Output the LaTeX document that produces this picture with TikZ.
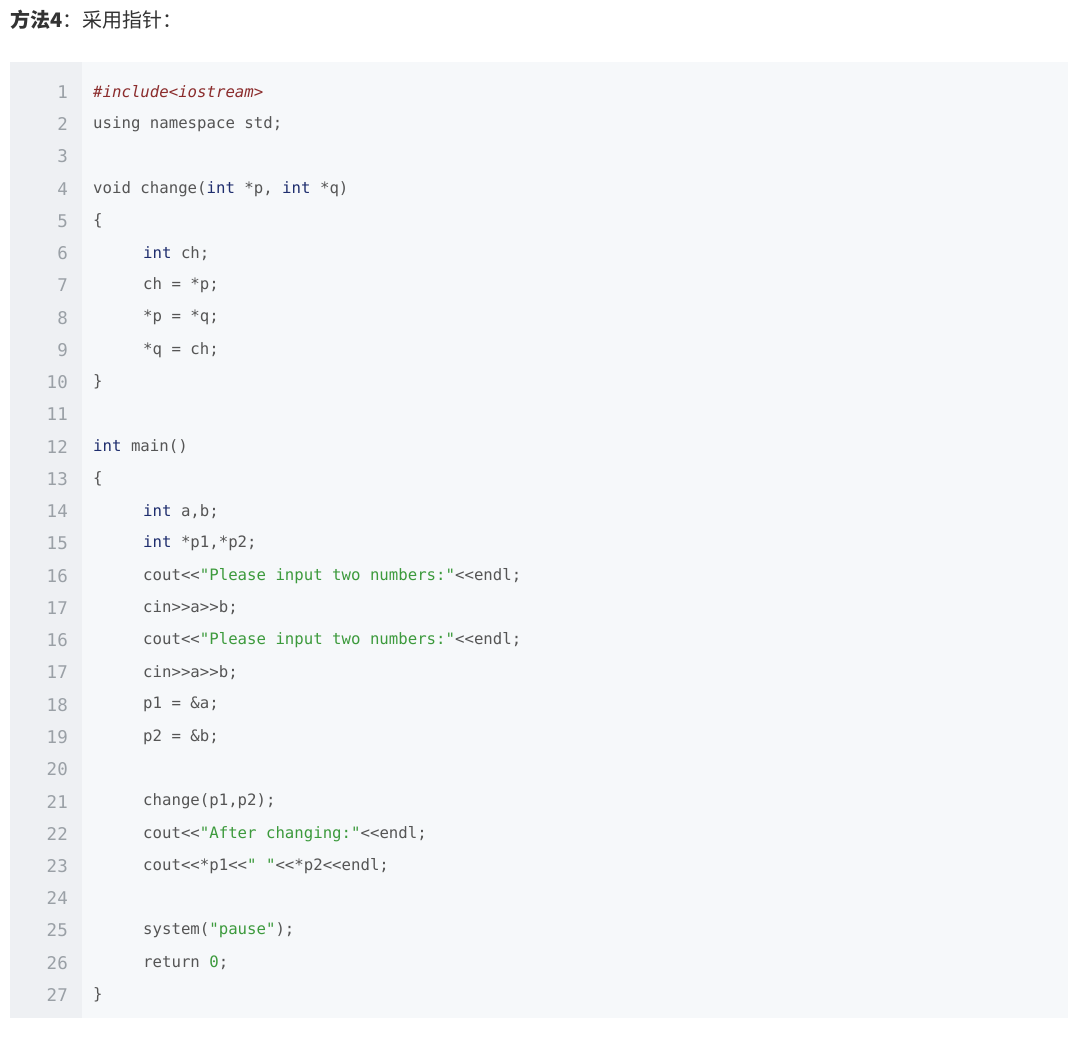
\documentclass[tikz,border=0pt]{standalone}
\usepackage{fontspec}
\setmonofont{DejaVu Sans Mono}
\newfontfamily\cjk{Noto Sans CJK SC}
\definecolor{gutterbg}{HTML}{EEF0F3}
\definecolor{codebg}{HTML}{F6F8FA}
\definecolor{numgrey}{HTML}{9AA0A6}
\definecolor{plain}{HTML}{555555}
\definecolor{kwblue}{HTML}{1F2E6E}
\definecolor{strgreen}{HTML}{3C9A3C}
\definecolor{preproc}{HTML}{8B2C2C}
\newcommand{\kw}[1]{\textcolor{kwblue}{#1}}
\newcommand{\strg}[1]{\textcolor{strgreen}{#1}}
\begin{document}
\begin{tikzpicture}[x=1pt,y=-1pt,
  lineno/.style={anchor=east,font=\ttfamily\fontsize{17.5}{17.5}\selectfont,text=numgrey,inner sep=0},
  codeline/.style={anchor=west,font=\ttfamily\fontsize{15.7}{15.7}\selectfont,text=plain,inner sep=0}]
  \useasboundingbox (0,0) rectangle (1080,1044);
  \fill[white] (0,0) rectangle (1080,1044);
  \node[anchor=west,inner sep=0,font=\cjk\fontsize{20}{20}\selectfont,text=black!80] (title) at (10,20)
    {\textbf{方法4}：采用指针：};
  \fill[codebg] (10,62) rectangle (1068,1018);
  \fill[gutterbg] (10,62) rectangle (82,1018);
  % line numbers
  \foreach \n [count=\i] in {1,...,15,16,17,16,17,18,19,20,21,22,23,24,25,26,27}
    \node[lineno] (num\i) at (68,{92+32.25*(\i-1)}) {\n};
  % code
  \def\L#1#2#3{\node[codeline] (line#1) at (#2,{92+32.25*(#1-1)}) {#3};}
  \L{1}{93}{\textcolor{preproc}{\itshape\#include}\textcolor{preproc}{<}\textcolor{preproc}{\itshape iostream}\textcolor{preproc}{>}}
  \L{2}{93}{using namespace std;}
  \L{4}{93}{void change(\kw{int} *p, \kw{int} *q)}
  \L{5}{93}{\{}
  \L{6}{143}{\kw{int} ch;}
  \L{7}{143}{ch = *p;}
  \L{8}{143}{*p = *q;}
  \L{9}{143}{*q = ch;}
  \L{10}{93}{\}}
  \L{12}{93}{\kw{int} main()}
  \L{13}{93}{\{}
  \L{14}{143}{\kw{int} a,b;}
  \L{15}{143}{\kw{int} *p1,*p2;}
  \L{16}{143}{cout<<\strg{"Please input two numbers:"}<<endl;}
  \L{17}{143}{cin>>a>>b;}
  \L{18}{143}{cout<<\strg{"Please input two numbers:"}<<endl;}
  \L{19}{143}{cin>>a>>b;}
  \L{20}{143}{p1 = \&a;}
  \L{21}{143}{p2 = \&b;}
  \L{23}{143}{change(p1,p2);}
  \L{24}{143}{cout<<\strg{"After changing:"}<<endl;}
  \L{25}{143}{cout<<*p1<<\strg{" "}<<*p2<<endl;}
  \L{27}{143}{system(\strg{"pause"});}
  \L{28}{143}{return \strg{0};}
  \L{29}{93}{\}}
\end{tikzpicture}
\end{document}
